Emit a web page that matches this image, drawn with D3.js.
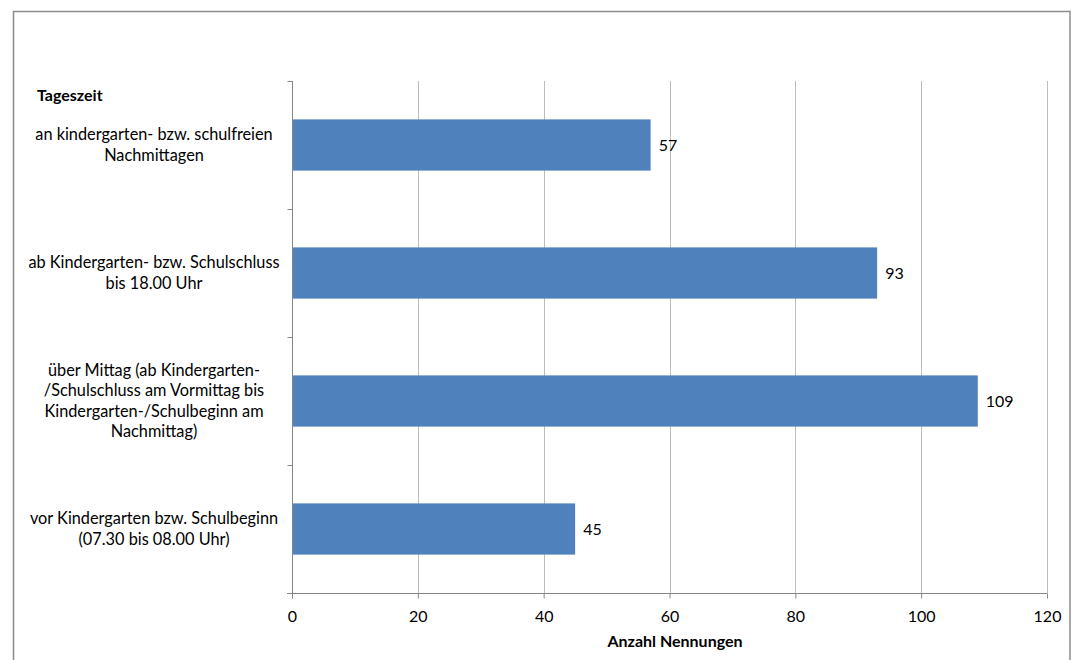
<!DOCTYPE html>
<html>
<head>
<meta charset="utf-8">
<script src="https://cdn.jsdelivr.net/npm/d3@7"></script>
<style>
  html, body { margin: 0; padding: 0; background: #ffffff; }
  svg { display: block; }
  text { font-family: Lato, "Open Sans", sans-serif; fill: #000; }
</style>
</head>
<body>
<svg id="chart" width="1076" height="660"></svg>
<script>
// ---- data ----
const categories = [
  ["an kindergarten- bzw. schulfreien", "Nachmittagen"],
  ["ab Kindergarten- bzw. Schulschluss", "bis 18.00 Uhr"],
  ["über Mittag (ab Kindergarten-", "/Schulschluss am Vormittag bis", "Kindergarten-/Schulbeginn am", "Nachmittag)"],
  ["vor Kindergarten bzw. Schulbeginn", "(07.30 bis 08.00 Uhr)"]
];
const values = [57, 93, 109, 45];
const xTicks = [0, 20, 40, 60, 80, 100, 120];
const yAxisTitle = "Tageszeit";
const xAxisTitle = "Anzahl Nennungen";

// ---- layout ----
const svg = d3.select("#chart");
const plot = { left: 292, right: 1047, top: 81, bottom: 593 };
const barColor = "#4F81BD";
const gridColor = "#BDBDBD";
const axisColor = "#868686";
const fs = 16;
const labelFs = 16.3;
const fontFam = "Lato, \"Open Sans\", sans-serif";

// outer frame
svg.append("rect")
  .attr("x", 13.5).attr("y", 11.5)
  .attr("width", 1056.5).attr("height", 700)
  .attr("fill", "none").attr("stroke", "#8c8c8c").attr("stroke-width", 1.5);

const x = d3.scaleLinear().domain([0, 120]).range([plot.left, plot.right]);
const keys = categories.map((c, i) => i);
const y = d3.scaleBand().domain(keys).range([plot.top, plot.bottom])
  .paddingInner(0.6).paddingOuter(0.3);

// gridlines
svg.append("g").selectAll("line")
  .data(xTicks.filter(t => t > 0))
  .join("line")
  .attr("x1", d => Math.round(x(d)) + 0.5).attr("x2", d => Math.round(x(d)) + 0.5)
  .attr("y1", plot.top).attr("y2", plot.bottom)
  .attr("stroke", gridColor).attr("stroke-width", 1);

// bars
svg.append("g").selectAll("rect")
  .data(values)
  .join("rect")
  .attr("x", x(0))
  .attr("y", (d, i) => y(i))
  .attr("width", d => x(d) - x(0))
  .attr("height", y.bandwidth())
  .attr("fill", barColor);

// value labels
svg.append("g").selectAll("text")
  .data(values)
  .join("text")
  .attr("x", d => x(d) + 8)
  .attr("y", (d, i) => y(i) + y.bandwidth() / 2)
  .attr("dy", "0.35em")
  .attr("font-size", fs)
  .text(d => d);

// x axis
const xAxis = d3.axisBottom(x).tickValues(xTicks).tickSize(5).tickPadding(12);
const gx = svg.append("g")
  .attr("transform", `translate(0,${plot.bottom + 0.5})`)
  .call(xAxis);
gx.select(".domain").attr("stroke", axisColor).attr("d", `M${plot.left - 5},0H${plot.right}`);
gx.selectAll(".tick line").attr("stroke", axisColor);
gx.selectAll(".tick text").attr("font-size", fs).attr("font-family", fontFam).attr("fill", "#000");

// y axis (ticks at band boundaries)
const yb = d3.scaleLinear().domain([0, categories.length]).range([plot.top, plot.bottom]);
const yAxis = d3.axisLeft(yb).tickValues(d3.range(categories.length + 1)).tickSize(5).tickFormat("");
const gy = svg.append("g")
  .attr("transform", `translate(${plot.left + 0.5},0)`)
  .call(yAxis);
gy.select(".domain").attr("stroke", axisColor).attr("d", `M0,${plot.top}V${plot.bottom}`);
gy.selectAll(".tick line").attr("stroke", axisColor);

// category labels
const labelX = 154;
const lineH = 20.5;
const lg = svg.append("g");
categories.forEach((lines, i) => {
  const cy = y(i) + y.bandwidth() / 2;
  const t = lg.append("text")
    .attr("text-anchor", "middle")
    .attr("font-size", labelFs)
    .attr("y", cy - (lines.length - 1) * lineH / 2);
  lines.forEach((ln, j) => {
    t.append("tspan").attr("x", labelX)
      .attr("dy", j === 0 ? "0.35em" : lineH)
      .text(ln);
  });
});

// titles
svg.append("text")
  .attr("x", 37).attr("y", 95).attr("dy", "0.35em")
  .attr("font-size", fs).attr("font-weight", "bold")
  .text(yAxisTitle);

svg.append("text")
  .attr("x", 675).attr("y", 641).attr("dy", "0.35em")
  .attr("text-anchor", "middle")
  .attr("font-size", fs).attr("font-weight", "bold")
  .text(xAxisTitle);
</script>
</body>
</html>
